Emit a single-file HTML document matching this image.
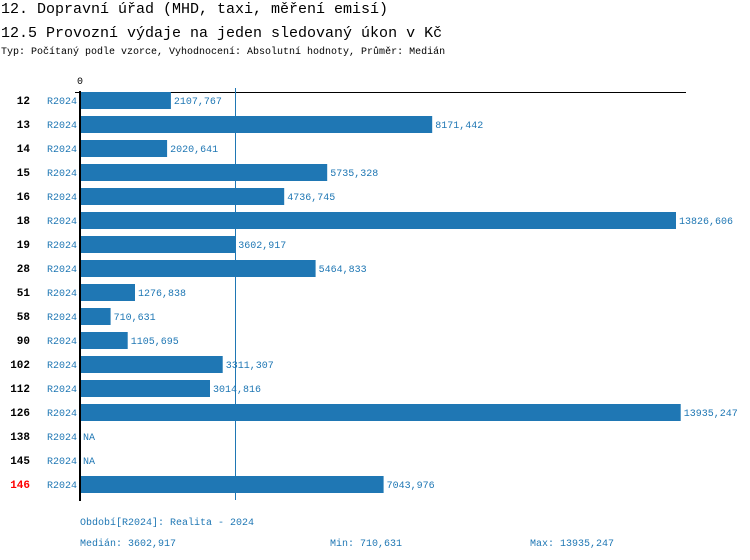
<!DOCTYPE html>
<html><head><meta charset="utf-8"><style>
body{margin:0;background:#fff}
svg{display:block;font-family:"Liberation Mono","DejaVu Sans Mono",monospace}
</style></head><body>
<svg width="750" height="560" xmlns="http://www.w3.org/2000/svg">
<text x="1" y="13" font-size="15" fill="#000">12. Dopravní úřad (MHD, taxi, měření emisí)</text>
<text x="1" y="37" font-size="15" fill="#000">12.5 Provozní výdaje na jeden sledovaný úkon v Kč</text>
<text x="1" y="54" font-size="10" fill="#000">Typ: Počítaný podle vzorce, Vyhodnocení: Absolutní hodnoty, Průměr: Medián</text>
<text x="77" y="84" font-size="10" fill="#000">0</text>
<line x1="75" y1="92.5" x2="686" y2="92.5" stroke="#000" stroke-width="1"/>
<g font-size="10">
<g id="rows"></g>
</g>
<rect x="79" y="91" width="2" height="410" fill="#000"/>
<line x1="235.5" y1="88" x2="235.5" y2="500" stroke="#1f77b4" stroke-width="1"/>
<g id="fg"></g>
<g font-size="10" fill="#1f77b4">
<text x="80" y="525">Období[R2024]: Realita - 2024</text>
<text x="80" y="546">Medián: 3602,917</text>
<text x="330" y="546">Min: 710,631</text>
<text x="530" y="546">Max: 13935,247</text>
</g>
</svg>
<script>
var d=[["12",2107767,"2107,767"],["13",8171442,"8171,442"],["14",2020641,"2020,641"],["15",5735328,"5735,328"],["16",4736745,"4736,745"],["18",13826606,"13826,606"],["19",3602917,"3602,917"],["28",5464833,"5464,833"],["51",1276838,"1276,838"],["58",710631,"710,631"],["90",1105695,"1105,695"],["102",3311307,"3311,307"],["112",3014816,"3014,816"],["126",13935247,"13935,247"],["138",null,"NA"],["145",null,"NA"],["146",7043976,"7043,976"]];
var s="",k=596/13826606;
d.forEach(function(r,i){var c=100+24*i;var w=r[1]?r[1]*k:0;
s+='<text x="30" y="'+(c+4)+'" font-size="11" font-weight="bold" text-anchor="end" fill="'+(r[0]=="146"?"#f00":"#000")+'">'+r[0]+'</text>';
s+='<text x="47" y="'+(c+4)+'" fill="#1f77b4">R2024</text>';
if(w)s+='<rect x="80" y="'+(c-8)+'" width="'+w.toFixed(1)+'" height="17" fill="#1f77b4"/>';
s+='<text x="'+(82+w+1).toFixed(1)+'" y="'+(c+4)+'" fill="#1f77b4">'+r[2]+'</text>';});
document.getElementById("rows").innerHTML=s;
</script>
</body></html>
